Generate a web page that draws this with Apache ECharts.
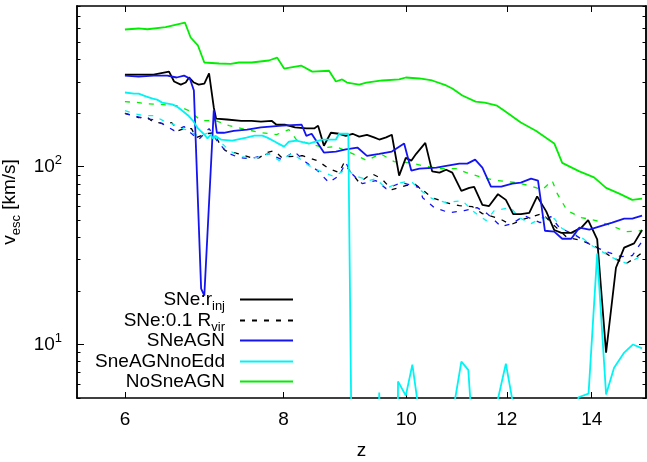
<!DOCTYPE html>
<html>
<head>
<meta charset="utf-8">
<script src="https://cdn.jsdelivr.net/npm/echarts@6.0.0/dist/echarts.min.js"></script>
<style>
html, body { margin: 0; padding: 0; background: #fff; }
#main { width: 647px; height: 462px; }
</style>
</head>
<body>
<div id="main"></div>
<script>
// tick values
const zTicks = [6, 8, 10, 12, 14];
const vMajor = [10, 100];
const vMinor = [5, 6, 7, 8, 9, 20, 30, 40, 50, 60, 70, 80, 90, 200, 300, 400, 500, 600, 700, 800];

// [z, v_esc]
const sneRinj = [[6.0,329],[6.15,329],[6.32,329],[6.50,342],[6.56,301],[6.64,289],[6.70,297],[6.74,317],[6.80,297],[6.86,289],[6.93,293],[6.99,334],[7.05,215],[7.08,186],[7.22,184],[7.41,181],[7.55,181],[7.68,179],[7.83,181],[7.90,172],[8.02,172],[8.17,166],[8.34,164],[8.46,164],[8.52,170],[8.61,131],[8.72,155],[8.85,153],[8.96,149],[9.07,153],[9.18,147.5],[9.31,151],[9.43,146],[9.52,142],[9.64,146],[9.74,151],[9.87,89],[9.99,112],[10.09,108],[10.18,118],[10.35,136],[10.48,94],[10.62,92.5],[10.75,96],[10.87,92.5],[11.05,73],[11.21,76],[11.31,77],[11.48,61],[11.62,60],[11.81,70],[11.98,65],[12.14,54],[12.31,54],[12.50,55],[12.68,68],[12.89,56],[13.08,44],[13.25,42.4],[13.49,42.4],[13.74,45.4],[13.91,50],[14.14,39],[14.37,9.0],[14.63,27],[14.85,35],[15.12,37],[15.34,44]];
const sneRvir = [[6.0,199],[6.08,193.6],[6.15,188.6],[6.24,191],[6.31,179],[6.43,174.6],[6.53,176.8],[6.61,159.4],[6.68,163.6],[6.77,163.6],[6.83,145.6],[6.95,153],[7.05,155],[7.14,131],[7.20,123],[7.38,118],[7.55,112],[7.65,112],[7.77,120],[7.87,123],[7.98,112],[8.08,113.8],[8.28,115.3],[8.51,108],[8.69,97.4],[8.85,92.5],[8.93,105],[9.02,95],[9.18,81.3],[9.39,91.3],[9.56,85.6],[9.74,74.2],[9.99,78.2],[10.14,80.2],[10.27,75.2],[10.48,66.9],[10.75,62.7],[11.01,60.3],[11.27,59.6],[11.48,54.4],[11.84,51],[12.09,47.2],[12.41,51],[12.80,54.4],[13.03,47.8],[13.39,39.9],[13.76,38.4],[14.19,34.6],[14.53,30.8],[14.90,28.5],[15.17,30.8],[15.40,33.7]];
const sneAGN = [[6.0,325],[6.15,321],[6.32,325],[6.48,325],[6.59,317],[6.68,325],[6.75,313],[6.80,268],[6.89,20.6],[6.93,18.8],[7.05,207],[7.09,155],[7.18,155],[7.31,159],[7.49,161.5],[7.68,166],[7.98,170],[8.27,172],[8.34,149],[8.42,153],[8.61,120],[8.80,121.5],[8.96,125],[9.15,128],[9.31,115],[9.52,118],[9.74,121.5],[9.96,135],[10.09,95],[10.24,97.4],[10.56,98.7],[10.75,101],[11.01,104],[11.17,104],[11.33,109.5],[11.48,98.7],[11.66,77.2],[11.88,77.2],[12.12,80.2],[12.31,81.3],[12.54,85.6],[12.70,83.5],[12.86,43.6],[13.08,43.1],[13.27,39.3],[13.49,39.3],[13.69,45.4],[13.94,44.2],[14.27,46.6],[14.53,48.4],[14.85,51],[15.07,51],[15.34,53]];
const sneAGNRvir = [[6.0,199],[6.10,193.6],[6.21,186],[6.32,183.8],[6.44,172.3],[6.56,159.4],[6.68,167.9],[6.77,153.3],[6.86,141.9],[6.99,163.6],[7.09,140.1],[7.22,120],[7.38,112.3],[7.55,110.9],[7.79,118.3],[7.98,109.5],[8.16,121.5],[8.34,105.3],[8.51,95],[8.69,81.3],[8.85,89],[8.96,105.3],[9.04,92.5],[9.23,80.2],[9.46,83.5],[9.64,75.2],[9.92,81.3],[10.24,76.2],[10.30,66.9],[10.52,58.8],[10.81,55.1],[11.11,56.6],[11.37,58.8],[11.58,54.4],[11.88,46],[12.12,47.8],[12.39,53],[12.75,48.4],[13.00,52.3],[13.20,45.4],[13.61,40.9],[14.01,35.9],[14.45,32.8],[14.77,31.2],[15.07,31.6],[15.34,38]];
const noEdd = [[6.0,261],[6.10,257],[6.15,257],[6.24,247.6],[6.31,241],[6.36,238],[6.42,229],[6.55,223],[6.61,215],[6.73,194],[6.79,181],[6.85,164],[6.92,153],[6.97,144],[7.01,151],[7.04,144],[7.07,149],[7.14,142],[7.29,140],[7.48,145.6],[7.59,149.4],[7.70,149.4],[7.77,145.6],[7.90,136.5],[8.01,129.6],[8.08,138],[8.19,140],[8.38,134.7],[8.58,142],[8.80,142],[8.85,153],[9.00,153],[9.12,0.02],[9.38,0.05],[9.52,5.36],[9.64,0.05],[9.80,0.02],[9.85,6.2],[9.99,5.16],[10.11,7.7],[10.25,3.8],[10.5,1],[10.89,4.3],[11.05,8.0],[11.19,7.2],[11.35,1.6],[11.6,1],[11.81,4.95],[11.98,7.8],[12.16,4.3],[12.8,1],[13.49,3.0],[13.67,5.05],[13.92,5.29],[14.14,32.4],[14.37,5.23],[14.58,7.4],[14.85,9.0],[15.09,10.0],[15.34,9.5]];
const noEddRvir = [[6.0,206.5],[6.10,198.7],[6.21,193.6],[6.32,193.6],[6.43,181.4],[6.53,174.6],[6.62,165.7],[6.74,159.4],[6.86,147.5],[6.99,155.3],[7.12,140.1],[7.25,123.1],[7.38,115.3],[7.48,112.3],[7.63,112.3],[7.79,118.3],[7.94,108.1],[8.13,118.3],[8.28,108.1],[8.38,101.3],[8.53,95],[8.77,87.9],[8.98,97.4],[9.10,89],[9.35,83.5],[9.46,85.6],[9.64,75.2],[9.82,80.2],[9.99,82.3],[10.11,81.3],[10.27,73.3],[10.48,66],[10.75,62.7],[11.07,64.4],[11.27,56.6],[11.56,49.7],[11.73,56.6],[12.09,58.8],[12.27,51.7],[12.54,47.8],[12.80,51.7],[13.08,51],[13.27,44.8],[13.69,40.9],[14.01,35.9],[14.53,30.8],[14.93,28.5],[15.34,31.6]];
const noSneAGN = [[6.0,590],[6.15,598],[6.25,592],[6.46,608],[6.69,646],[6.76,532],[6.85,480],[6.93,385],[7.12,380],[7.27,378],[7.38,385],[7.55,385],[7.79,395],[7.91,410],[8.01,356],[8.26,370],[8.43,342],[8.69,346],[8.80,301],[8.90,309],[8.98,297],[9.18,289],[9.30,297],[9.57,305],[9.87,309],[9.99,317],[10.24,313],[10.48,305],[10.75,286],[10.87,275],[11.07,251],[11.34,232],[11.53,229],[11.79,220],[11.94,207],[12.31,177],[12.65,159],[13.08,135],[13.27,105],[13.69,94],[14.06,87],[14.37,76],[14.72,70.5],[15.07,65],[15.34,66]];
const noSneAGNRvir = [[6.0,232],[6.15,229],[6.24,226],[6.43,223],[6.59,220],[6.74,206.5],[6.89,181.4],[7.07,181.4],[7.25,170],[7.48,161.5],[7.68,155.3],[7.90,151.3],[8.08,161.5],[8.19,141.9],[8.38,134.7],[8.61,127.9],[8.80,129.6],[9.07,118.3],[9.31,108.1],[9.54,118.3],[9.78,106.7],[10.05,105.3],[10.30,101.3],[10.62,97.4],[10.95,97.4],[11.15,92.5],[11.48,86.7],[11.79,83.5],[12.20,81.3],[12.50,78.2],[12.80,74.2],[13.03,83.5],[13.15,70.5],[13.39,56.6],[13.74,51.7],[14.11,49.7],[14.50,46.6],[14.90,43.1],[15.34,43.6]];

const FONT = 'Liberation Sans';
const BLACK = '#000000', BLUE = '#1414f0', CYAN = '#00f4f4', GREEN = '#00ee00';
const DASH = [5, 7];

var myChart = echarts.init(document.getElementById('main'));

function xAx(pos, labels) {
    return {
        type: 'log', logBase: 10, min: 5.5, max: 15.45, position: pos,
        axisLine: { show: true, lineStyle: { color: '#000', width: 1.5 } },
        axisTick: { show: true, inside: true, length: 6, customValues: zTicks, lineStyle: { color: '#000', width: 1 } },
        axisLabel: { show: labels, customValues: zTicks, margin: 12, color: '#000', fontSize: 19, fontFamily: FONT,
            formatter: function (v) { return String(Math.round(v)); } },
        splitLine: { show: false }, minorTick: { show: false }
    };
}
function yAx(pos, ticks, len, labels) {
    return {
        type: 'log', logBase: 10, min: 5, max: 800, position: pos,
        axisLine: { show: true, lineStyle: { color: '#000', width: 1.5 } },
        axisTick: { show: true, inside: true, length: len, customValues: ticks, lineStyle: { color: '#000', width: 1 } },
        axisLabel: { show: labels, customValues: vMajor, margin: 15, color: '#000', fontFamily: FONT,
            formatter: function (v) { return '{b|10}{p|' + Math.round(Math.log10(v)) + '}'; },
            rich: { b: { fontSize: 19, lineHeight: 26, fontFamily: FONT, color: '#000' },
                    p: { fontSize: 13, lineHeight: 12, verticalAlign: 'top', fontFamily: FONT, color: '#000' } } },
        splitLine: { show: false }, minorTick: { show: false }
    };
}

const legendRich = {
    t: { fontSize: 19, lineHeight: 26, fontFamily: FONT, color: '#000' },
    s: { fontSize: 13, lineHeight: 12, verticalAlign: 'bottom', fontFamily: FONT, color: '#000' }
};
const legendText = {
    'SNe:r_inj': '{t|SNe:r}{s|inj}',
    'SNe:0.1 R_vir': '{t|SNe:0.1 R}{s|vir}',
    'SNeAGN': '{t|SNeAGN}',
    'SneAGNnoEdd': '{t|SneAGNnoEdd}',
    'NoSneAGN': '{t|NoSneAGN}'
};
const legendNames = ['SNe:r_inj', 'SNe:0.1 R_vir', 'SNeAGN', 'SneAGNnoEdd', 'NoSneAGN'];
const legendTop = [290, 311, 331, 352, 372];

var xName = xAx('bottom', true);
xName.name = 'z';
xName.nameLocation = 'middle';
xName.nameGap = 43;
xName.nameTextStyle = { fontSize: 19, fontFamily: FONT, color: '#000' };

var yName = yAx('left', vMajor, 7, true);
yName.name = '{n|v}{s|esc}{n| [km/s]}';
yName.nameLocation = 'middle';
yName.nameGap = 46;
yName.nameTextStyle = { fontFamily: FONT, color: '#000', rich: {
    n: { fontSize: 19, lineHeight: 26, fontFamily: FONT, color: '#000' },
    s: { fontSize: 13, lineHeight: 12, verticalAlign: 'bottom', fontFamily: FONT, color: '#000' } } };

function line(name, data, color, dashed) {
    return {
        name: name, type: 'line', data: data, xAxisIndex: 0, yAxisIndex: 0,
        symbol: 'none', smooth: false, clip: true, color: color,
        lineStyle: { color: color, width: dashed ? 1.3 : 1.8, type: dashed ? DASH : 'solid' }
    };
}

myChart.setOption({
    animation: false,
    backgroundColor: '#fff',
    grid: { left: 77, right: 1, top: 6, bottom: 64, containLabel: false, outerBoundsMode: 'none' },
    xAxis: [xName, xAx('top', false)],
    yAxis: [yName, yAx('left', vMinor, 3.5, false), yAx('right', vMajor, 7, false), yAx('right', vMinor, 3.5, false)],
    legend: legendNames.map(function (n, i) {
        return {
            data: [n], right: 353, top: legendTop[i], orient: 'horizontal', align: 'right',
            itemWidth: 53, itemHeight: 14, padding: 0, itemGap: 0, selectedMode: false,
            itemStyle: { opacity: 0 },
            formatter: function (name) { return legendText[name]; },
            textStyle: { fontSize: 19, fontFamily: FONT, color: '#000', padding: [0, 10, 0, 0], rich: legendRich }
        };
    }),
    series: [
        line('SNe:0.1 R_vir', sneRvir, BLACK, true),
        line('SNeAGN:0.1 R_vir', sneAGNRvir, BLUE, true),
        line('SneAGNnoEdd:0.1 R_vir', noEddRvir, CYAN, true),
        line('NoSneAGN:0.1 R_vir', noSneAGNRvir, GREEN, true),
        line('SNe:r_inj', sneRinj, BLACK, false),
        line('SNeAGN', sneAGN, BLUE, false),
        line('SneAGNnoEdd', noEdd, CYAN, false),
        line('NoSneAGN', noSneAGN, GREEN, false)
    ]
});
</script>
</body>
</html>
